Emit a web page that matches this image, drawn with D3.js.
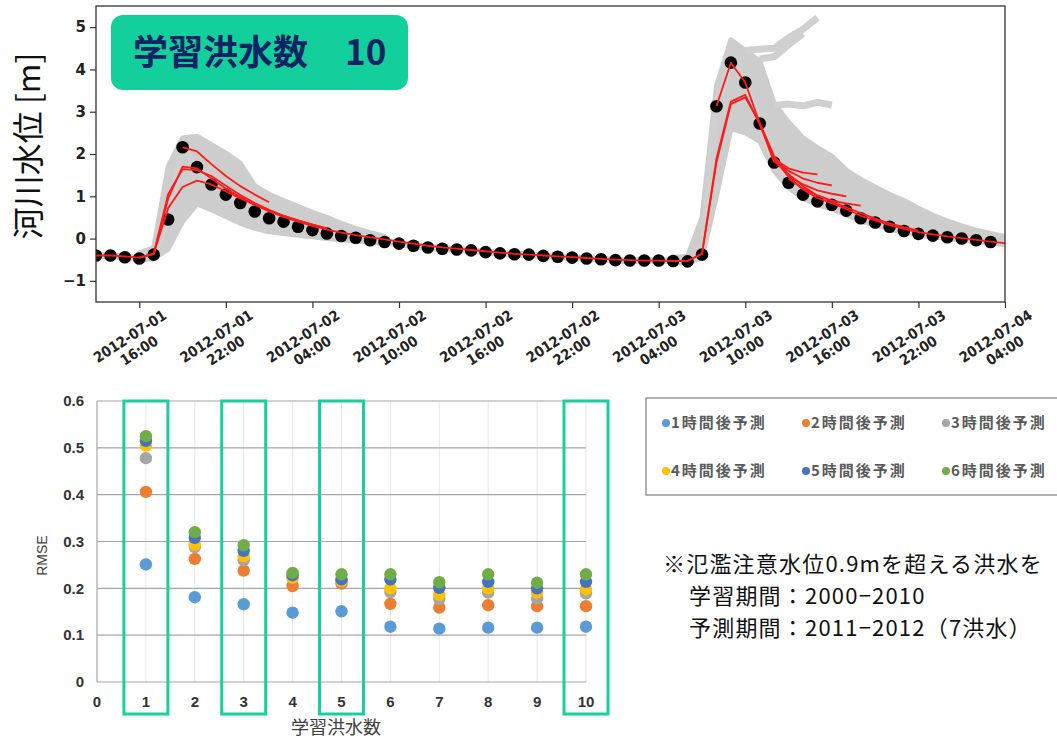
<!DOCTYPE html>
<html>
<head>
<meta charset="utf-8">
<script src="https://cdn.jsdelivr.net/npm/d3@7"></script>
<style>
  body { margin: 0; background: #fff; }
  svg { display: block; }
</style>
</head>
<body>
<svg id="canvas" width="1057" height="738"></svg>
<script>
// ---- top chart data: hourly, index 0 = 2012-07-01 13:00 ----
let observed = [-0.40, -0.40, -0.44, -0.47, -0.38, 0.45, 2.16, 1.69, 1.28, 1.04,
    0.84, 0.64, 0.48, 0.40, 0.28, 0.20, 0.12, 0.06, 0.02, -0.04,
    -0.08, -0.12, -0.17, -0.21, -0.24, -0.26, -0.28, -0.32, -0.35, -0.37,
    -0.38, -0.41, -0.43, -0.45, -0.47, -0.49, -0.51, -0.52, -0.52, -0.52,
    -0.53, -0.54, -0.38, 3.13, 4.16, 3.69, 2.72, 1.80, 1.32, 1.04,
    0.88, 0.80, 0.66, 0.48, 0.38, 0.28, 0.18, 0.11, 0.07, 0.03,
    0.00, -0.04, -0.08]

let redMain = [-0.40, -0.40, -0.42, -0.45, -0.36, 0.95, 1.70, 1.66, 1.42, 1.18,
    0.98, 0.80, 0.64, 0.51, 0.40, 0.30, 0.21, 0.14, 0.08, 0.03,
    -0.02, -0.07, -0.12, -0.17, -0.21, -0.24, -0.27, -0.30, -0.33, -0.36,
    -0.38, -0.40, -0.42, -0.44, -0.46, -0.48, -0.50, -0.51, -0.52, -0.52,
    -0.53, -0.53, -0.36, 1.88, 3.24, 3.40, 2.70, 1.90, 1.46, 1.16,
    0.96, 0.84, 0.70, 0.54, 0.43, 0.32, 0.23, 0.15, 0.10, 0.05,
    0.01, -0.03, -0.07, -0.11]
let redSeg1 = [-0.45, -0.36, 0.72, 1.22, 1.37, 1.28, 1.12, 0.95, 0.80, 0.66, 0.54, 0.43, 0.33, 0.24]   // from idx 3
let redSeg2 = [-0.45, -0.36, 1.05, 1.64, 1.62, 1.48, 1.25, 1.03, 0.84, 0.68, 0.54, 0.43, 0.33, 0.24]  // from idx 3
let redTraj1 = [2.16, 2.06, 1.76, 1.48, 1.24, 1.04, 0.86]                                                // from idx 6
let redSeg3 = [-0.53, -0.36, 1.80, 3.18, 3.34, 2.74, 1.95, 1.52, 1.24, 1.02, 0.88, 0.74, 0.60, 0.47, 0.36, 0.27, 0.19] // from idx 41
let redTraj2 = [3.13, 4.16, 3.69, 2.72, 1.80]      // from idx 43
let redFan1 = [1.88, 1.66, 1.56, 1.52]             // from idx 47
let redFan2 = [1.88, 1.60, 1.42, 1.32, 1.26]       // from idx 47
let redFan3 = [1.84, 1.50, 1.28, 1.14, 1.06, 1.00] // from idx 47
let redFan4 = [1.42, 1.18, 1.02, 0.90, 0.83, 0.78] // from idx 48

let greyLo1 = [-0.52, -0.48, -0.25, 0.40, 0.82, 0.68, 0.52, 0.36, 0.24, 0.16, 0.12, 0.08, 0.04, 0.00, -0.03, -0.06, -0.09, -0.12]  // from idx 3
let greyHi1 = [-0.34, -0.22, 1.70, 2.38, 2.42, 2.22, 2.02, 1.78, 1.25, 1.05, 0.90, 0.76, 0.62, 0.50, 0.36, 0.24, 0.14, 0.05]
let greyLo2 = [-0.58, -0.58, -0.45, 1.00, 2.60, 2.50, 2.30, 1.60, 1.20, 0.95, 0.80, 0.70, 0.56, 0.42, 0.32, 0.22, 0.14, 0.08, 0.04, 0.00, -0.04, -0.08, -0.11, -0.14] // from idx 40
let greyHi2 = [-0.45, -0.42, 0.50, 3.60, 4.70, 4.45, 4.20, 3.20, 2.75, 2.38, 2.15, 1.95, 1.62, 1.40, 1.22, 1.05, 0.90, 0.72, 0.55, 0.42, 0.30, 0.20, 0.12, 0.05]
let greyTrajA = [4.45, 4.48, 4.50, 4.75, 4.95, 5.22]  // from idx 45
let greyTrajB = [4.25, 4.30, 4.58, 4.85]              // from idx 46
let greyTrajC = [3.15, 3.18, 3.14, 3.22, 3.16]        // from idx 47

let xTickLabels = ["2012-07-01 16:00", "2012-07-01 22:00", "2012-07-02 04:00", "2012-07-02 10:00",
    "2012-07-02 16:00", "2012-07-02 22:00", "2012-07-03 04:00", "2012-07-03 10:00",
    "2012-07-03 16:00", "2012-07-03 22:00", "2012-07-04 04:00"]
let yTicksTop = [-1, 0, 1, 2, 3, 4, 5]

// ---- bottom chart data ----
let floodCounts = [1, 2, 3, 4, 5, 6, 7, 8, 9, 10]
let rmse1h = [0.251, 0.181, 0.166, 0.148, 0.151, 0.118, 0.114, 0.116, 0.116, 0.118]
let rmse2h = [0.406, 0.263, 0.238, 0.205, 0.210, 0.167, 0.159, 0.164, 0.162, 0.162]
let rmse3h = [0.478, 0.288, 0.260, 0.222, 0.214, 0.192, 0.177, 0.191, 0.178, 0.189]
let rmse4h = [0.505, 0.293, 0.268, 0.223, 0.216, 0.200, 0.186, 0.200, 0.191, 0.198]
let rmse5h = [0.515, 0.308, 0.280, 0.228, 0.219, 0.219, 0.201, 0.214, 0.200, 0.214]
let rmse6h = [0.525, 0.320, 0.292, 0.233, 0.230, 0.230, 0.213, 0.230, 0.212, 0.230]
let seriesNames = ["1時間後予測", "2時間後予測", "3時間後予測", "4時間後予測", "5時間後予測", "6時間後予測"]
let seriesColors = ["#5b9bd5", "#ed7d31", "#a5a5a5", "#ffc000", "#4472c4", "#70ad47"]
let highlighted = [1, 3, 5, 10]
let yTicksBottom = [0, 0.1, 0.2, 0.3, 0.4, 0.5, 0.6]
let xTicksBottom = [0, 1, 2, 3, 4, 5, 6, 7, 8, 9, 10]

let canvas = d3.select("#canvas")

// ================= top chart =================
let startTime = new Date(2012, 6, 1, 13, 0)
let endTime = new Date(2012, 6, 4, 4, 0)
let hourAt = (i) => d3.timeHour.offset(startTime, i)
let parseTick = d3.timeParse("%Y-%m-%d %H:%M")

let xTop = d3.scaleTime().domain([startTime, endTime]).range([96, 1005])
let yTop = d3.scaleLinear().domain([-1.5, 5.5]).range([302, 6])

let topChart = canvas.append("g")

topChart.append("defs").append("clipPath").attr("id", "clipTop")
    .append("rect").attr("x", 96).attr("y", 6).attr("width", 909).attr("height", 296)

let plot = topChart.append("g").attr("clip-path", "url(#clipTop)")

let toPoints = (start, values) => values.map((v, k) => [start + k, v])

let lineGen = d3.line()
    .x((d) => xTop(hourAt(d[0])))
    .y((d) => yTop(d[1]))

let areaGen = d3.area()
    .x((d) => xTop(hourAt(d.i)))
    .y0((d) => yTop(d.lo))
    .y1((d) => yTop(d.hi))

let bands = [[3, greyLo1, greyHi1], [40, greyLo2, greyHi2]]
bands.forEach((b) => {
    let pts = b[1].map((lo, k) => ({ i: b[0] + k, lo: lo, hi: b[2][k] }))
    plot.append("path").attr("d", areaGen(pts))
        .attr("fill", "#cdcdcd").attr("stroke", "#cdcdcd").attr("stroke-width", 5)
        .attr("stroke-linejoin", "round")
})

let greyLines = [[0, observed], [45, greyTrajA], [46, greyTrajB], [47, greyTrajC]]
greyLines.forEach((g) => {
    plot.append("path").attr("d", lineGen(toPoints(g[0], g[1])))
        .attr("fill", "none").attr("stroke", "#d0d0d0")
        .attr("stroke-width", 7).attr("stroke-linejoin", "round")
})

plot.selectAll("circle.obs")
    .data(observed)
    .enter()
    .append("circle")
    .attr("class", "obs")
    .attr("cx", (d, i) => xTop(hourAt(i)))
    .attr("cy", (d) => yTop(d))
    .attr("r", 6.3)
    .attr("fill", "#000")

let redLines = [[0, redMain], [3, redSeg1], [3, redSeg2], [6, redTraj1], [41, redSeg3],
    [43, redTraj2], [47, redFan1], [47, redFan2], [47, redFan3], [48, redFan4]]
redLines.forEach((r) => {
    plot.append("path").attr("d", lineGen(toPoints(r[0], r[1])))
        .attr("fill", "none").attr("stroke", "#ff1a1a").attr("stroke-width", 1.8)
        .attr("stroke-linejoin", "round")
})

// frame
topChart.append("rect").attr("x", 96).attr("y", 6).attr("width", 909).attr("height", 296)
    .attr("fill", "none").attr("stroke", "#333").attr("stroke-width", 1.3)

// y axis
let yAxisTop = topChart.append("g").attr("transform", "translate(96,0)")
    .call(d3.axisLeft(yTop).tickValues(yTicksTop).tickSize(6).tickPadding(4).tickFormat(d3.format("d")))
yAxisTop.select(".domain").remove()
yAxisTop.selectAll("line").attr("stroke", "#333").attr("stroke-width", 1.2)
yAxisTop.selectAll("text")
    .attr("font-family", "DejaVu Sans, sans-serif").attr("font-weight", "bold")
    .attr("font-size", 15).attr("fill", "#222")

// x axis
let tickTimes = xTickLabels.map((s) => parseTick(s))
let xAxisTop = topChart.append("g").attr("transform", "translate(0,302)")
    .call(d3.axisBottom(xTop).tickValues(tickTimes).tickSize(6).tickFormat(""))
xAxisTop.select(".domain").remove()
xAxisTop.selectAll("line").attr("stroke", "#333").attr("stroke-width", 1.2)

xTickLabels.forEach((s, k) => {
    let t = topChart.append("text")
        .attr("transform", "translate(" + (xTop(tickTimes[k]) - 5) + ",343) rotate(-33)")
        .attr("text-anchor", "middle")
        .attr("font-family", "DejaVu Sans Condensed, DejaVu Sans, sans-serif").attr("font-weight", "bold")
        .attr("font-stretch", "condensed")
        .attr("font-size", 14.5).attr("fill", "#222")
    let parts = s.split(" ")
    t.append("tspan").attr("x", 0).attr("y", -3).text(parts[0])
    t.append("tspan").attr("x", 0).attr("y", 14).text(parts[1])
})

// y label
topChart.append("text")
    .attr("transform", "translate(40,146) rotate(-90)")
    .attr("text-anchor", "middle")
    .attr("font-family", "Noto Sans CJK JP, sans-serif")
    .attr("font-size", 32).attr("fill", "#111")
    .text("河川水位 [m]")

// title box
topChart.append("rect").attr("x", 111).attr("y", 15).attr("width", 297).attr("height", 75)
    .attr("rx", 12).attr("fill", "#13cf9c")
let title = topChart.append("text")
    .attr("font-family", "Noto Sans CJK JP, sans-serif").attr("font-weight", "bold")
    .attr("font-size", 35).attr("fill", "#0c2463")
title.append("tspan").attr("x", 133).attr("y", 65).text("学習洪水数")
title.append("tspan").attr("x", 345).attr("y", 65).text("10")

// ================= bottom chart =================
let xB = d3.scaleLinear().domain([0, 10]).range([97, 586])
let yB = d3.scaleLinear().domain([0, 0.6]).range([682, 401])

let bottomChart = canvas.append("g")

bottomChart.selectAll("line.vgrid")
    .data(floodCounts)
    .enter()
    .append("line")
    .attr("class", "vgrid")
    .attr("x1", (d) => xB(d)).attr("x2", (d) => xB(d))
    .attr("y1", yB(0.6)).attr("y2", yB(0))
    .attr("stroke", "#e6e6e6").attr("stroke-width", 1)

bottomChart.selectAll("line.hgrid")
    .data(yTicksBottom)
    .enter()
    .append("line")
    .attr("class", "hgrid")
    .attr("x1", xB(0)).attr("x2", xB(10))
    .attr("y1", (d) => yB(d)).attr("y2", (d) => yB(d))
    .attr("stroke", "#a6a6a6").attr("stroke-width", 1.2)

bottomChart.append("line")
    .attr("x1", xB(0)).attr("x2", xB(0)).attr("y1", yB(0.6)).attr("y2", yB(0))
    .attr("stroke", "#a6a6a6").attr("stroke-width", 1.2)

bottomChart.selectAll("text.ylab")
    .data(yTicksBottom)
    .enter()
    .append("text")
    .attr("class", "ylab")
    .attr("x", 84).attr("y", (d) => yB(d))
    .attr("dy", "0.35em")
    .attr("text-anchor", "end")
    .attr("font-family", "Liberation Sans, Arial, sans-serif").attr("font-weight", "bold")
    .attr("font-size", 15).attr("fill", "#333")
    .text((d) => d == 0 ? "0" : d3.format(".1f")(d))

bottomChart.selectAll("text.xlab")
    .data(xTicksBottom)
    .enter()
    .append("text")
    .attr("class", "xlab")
    .attr("x", (d) => xB(d)).attr("y", 702)
    .attr("dy", "0.35em")
    .attr("text-anchor", "middle")
    .attr("font-family", "Liberation Sans, Arial, sans-serif").attr("font-weight", "bold")
    .attr("font-size", 15).attr("fill", "#333")
    .text((d) => d)

bottomChart.append("text")
    .attr("transform", "translate(42," + yB(0.27) + ") rotate(-90)")
    .attr("text-anchor", "middle").attr("dy", "0.35em")
    .attr("font-family", "Liberation Sans, Arial, sans-serif")
    .attr("font-size", 14).attr("fill", "#404040")
    .text("RMSE")

bottomChart.append("text")
    .attr("x", 336).attr("y", 734)
    .attr("text-anchor", "middle")
    .attr("font-family", "Noto Sans CJK JP, sans-serif")
    .attr("font-size", 18).attr("fill", "#404040")
    .text("学習洪水数")

let allSeries = [rmse1h, rmse2h, rmse3h, rmse4h, rmse5h, rmse6h]
allSeries.forEach((series, s) => {
    bottomChart.selectAll("circle.s" + s)
        .data(series)
        .enter()
        .append("circle")
        .attr("class", "s" + s)
        .attr("cx", (d, i) => xB(floodCounts[i]))
        .attr("cy", (d) => yB(d))
        .attr("r", 6.2)
        .attr("fill", seriesColors[s])
})

bottomChart.selectAll("rect.hl")
    .data(highlighted)
    .enter()
    .append("rect")
    .attr("class", "hl")
    .attr("x", (d) => xB(d) - 22).attr("y", yB(0.6))
    .attr("width", 44).attr("height", 714 - yB(0.6))
    .attr("fill", "none").attr("stroke", "#19cf9e").attr("stroke-width", 3)

// legend
let legend = canvas.append("g")
legend.append("rect").attr("x", 646).attr("y", 398).attr("width", 430).attr("height", 97)
    .attr("fill", "#fff").attr("stroke", "#7f7f7f").attr("stroke-width", 1.2)
seriesNames.forEach((name, s) => {
    let lx = 666 + (s % 3) * 140
    let ly = 423 + Math.floor(s / 3) * 48
    legend.append("circle").attr("cx", lx).attr("cy", ly).attr("r", 4).attr("fill", seriesColors[s])
    legend.append("text").attr("x", lx + 5).attr("y", ly).attr("dy", "0.35em")
        .attr("font-family", "Noto Sans CJK JP, sans-serif").attr("font-weight", "bold")
        .attr("font-size", 15).attr("letter-spacing", 2).attr("fill", "#595959")
        .text(name)
})

// note
let noteLines = ["※氾濫注意水位0.9mを超える洪水を", "学習期間：2000−2010", "予測期間：2011−2012（7洪水）"]
let note = canvas.append("g")
    .attr("font-family", "Noto Sans CJK JP, sans-serif").attr("font-size", 22)
    .attr("letter-spacing", 1.2).attr("fill", "#111")
note.append("text").attr("x", 663).attr("y", 572).text(noteLines[0])
note.append("text").attr("x", 689).attr("y", 604).text(noteLines[1])
note.append("text").attr("x", 689).attr("y", 636).text(noteLines[2])
</script>
</body>
</html>
